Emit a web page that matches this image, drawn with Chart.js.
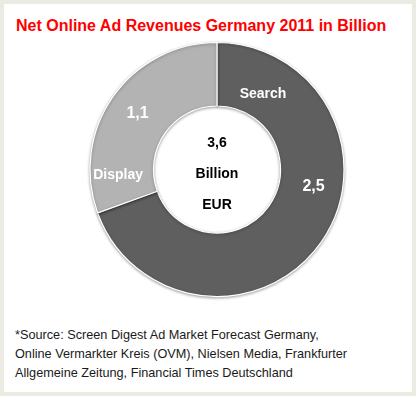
<!DOCTYPE html>
<html>
<head>
<meta charset="utf-8">
<script src="https://cdn.jsdelivr.net/npm/chart.js@4/dist/chart.umd.min.js"></script>
<style>
  html, body { margin: 0; padding: 0; background: #ffffff; }
  #frame {
    position: absolute; left: 0; top: 0;
    width: 408px; height: 388px;
    border: 4px solid #ecebe3; background: #ffffff;
  }
  #title {
    position: absolute; left: 12px; top: 13px;
    font: bold 16px "Liberation Sans", Arial, sans-serif;
    line-height: 17px; color: #ff0000; white-space: nowrap;
  }
  #note {
    position: absolute; left: 11px; top: 322px;
    font: 12.7px "Liberation Sans", Arial, sans-serif;
    line-height: 19px; color: #1a1a1a; white-space: nowrap;
  }
  #wrap { position: absolute; left: 0; top: 0; width: 416px; height: 396px; }
</style>
</head>
<body>
<div id="frame">
  <div id="title">Net Online Ad Revenues Germany 2011 in Billion</div>
  <div id="note">*Source: Screen Digest Ad Market Forecast Germany,<br>Online Vermarkter Kreis (OVM), Nielsen Media, Frankfurter<br>Allgemeine Zeitung, Financial Times Deutschland</div>
</div>
<div id="wrap"><canvas id="c" width="416" height="396"></canvas></div>
<script>
const categories = ["Search", "Display"];
const values = [2.5, 1.1];
const valueLabels = ["2,5", "1,1"];
const centerLines = ["3,6", "Billion", "EUR"];
const colors = ["#5f5f5f", "#b3b3b3"];

// label placement within each arc: [fraction along arc, radius] for name and value
const namePlace = [[0.126, 88], [0.153, 99]];
const valuePlace = [[0.40, 98], [0.50, 97]];

const labelPlugin = {
  id: 'labels',
  beforeDatasetsDraw(chart) {
    const ctx = chart.ctx;
    ctx.save();
    ctx.shadowColor = 'rgba(0,0,0,0.35)';
    ctx.shadowBlur = 3;
    ctx.shadowOffsetY = 1;
  },
  afterDatasetsDraw(chart) {
    const ctx = chart.ctx;
    ctx.restore();
    const meta = chart.getDatasetMeta(0);
    ctx.save();
    ctx.textAlign = 'center';
    ctx.textBaseline = 'middle';
    ctx.fillStyle = '#ffffff';
    meta.data.forEach((arc, i) => {
      const p = arc.getProps(['x', 'y', 'startAngle', 'endAngle'], true);
      const put = (place, text) => {
        const a = p.startAngle + place[0] * (p.endAngle - p.startAngle);
        ctx.fillText(text, p.x + Math.cos(a) * place[1], p.y + Math.sin(a) * place[1]);
      };
      ctx.font = 'bold 14px "Liberation Sans", Arial, sans-serif';
      put(namePlace[i], categories[i]);
      ctx.font = 'bold 16px "Liberation Sans", Arial, sans-serif';
      put(valuePlace[i], valueLabels[i]);
    });
    const c = meta.data[0];
    ctx.fillStyle = '#000000';
    ctx.font = 'bold 14px "Liberation Sans", Arial, sans-serif';
    const offs = [-26, 5, 36];
    centerLines.forEach((t, k) => ctx.fillText(t, c.x, c.y + offs[k]));
    ctx.restore();
  }
};

new Chart(document.getElementById('c'), {
  type: 'doughnut',
  data: {
    labels: categories,
    datasets: [{
      data: values,
      backgroundColor: colors,
      borderColor: '#ffffff',
      borderWidth: 1.2,
      hoverOffset: 0,
      offset: 0
    }]
  },
  options: {
    responsive: false,
    animation: false,
    cutout: '50%',
    radius: 127,
    layout: { padding: { top: 42, bottom: 99, left: 18, right: 0 } },
    plugins: { legend: { display: false }, tooltip: { enabled: false }, title: { display: false } },
    events: []
  },
  plugins: [labelPlugin]
});
</script>
</body>
</html>
